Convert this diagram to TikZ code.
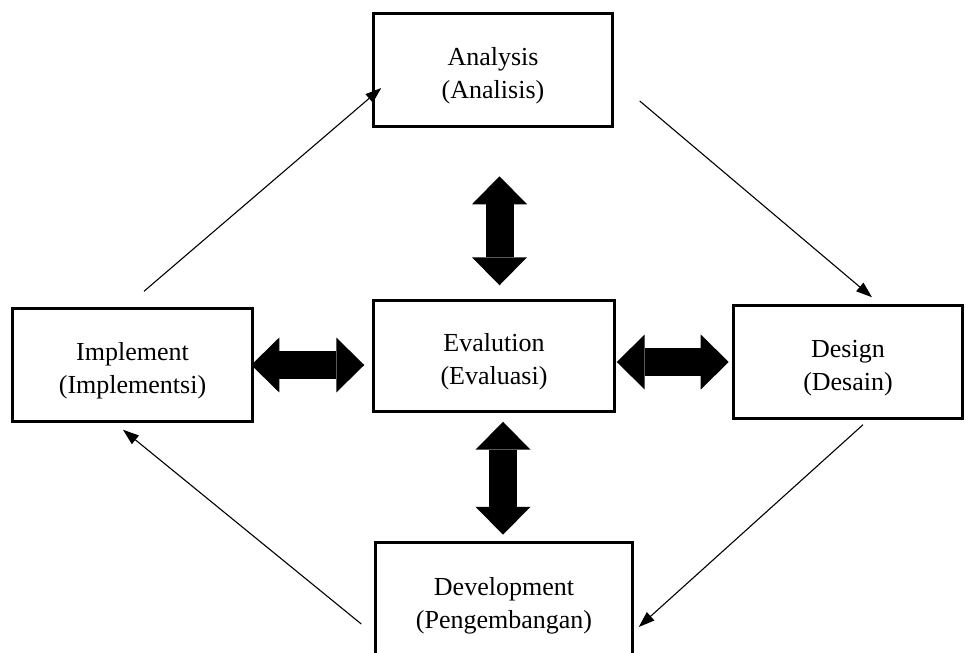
\documentclass[tikz,border=0pt]{standalone}
\usepackage{fontspec}
\setmainfont{Liberation Serif}
\usepackage{tikz}
\usetikzlibrary{arrows.meta,calc}

\begin{document}
\begin{tikzpicture}[x=0.02cm,y=-0.02cm,
  box/.style={draw, line width=0.07cm, align=center, inner sep=0pt, text height=35.4pt,
    font=\fontsize{14.8}{18.8}\selectfont},
  thin/.style={line width=0.022cm, -{Triangle[length=0.32cm,width=0.22cm]}},
  fat/.style={line width=0.56cm,
    {Triangle[length=0.56cm,width=1.1cm,line width=0pt]}-{Triangle[length=0.56cm,width=1.1cm,line width=0pt]}}]
\useasboundingbox (0,0) rectangle (966,652);

\node (An) at (493,70)  [box, minimum width=4.78cm, minimum height=2.26cm] {Analysis\\(Analisis)};
\node (Ev) at (494,356) [box, minimum width=4.82cm, minimum height=2.22cm] {Evalution\\(Evaluasi)};
\node (Im) at (132.5,365) [box, minimum width=4.8cm, minimum height=2.26cm] {Implement\\(Implementsi)};
\node (Ds) at (848,362) [box, minimum width=4.58cm, minimum height=2.26cm] {Design\\(Desain)};
\node (Dv) at (504,600) [box, minimum width=5.14cm, minimum height=2.3cm] {Development\\(Pengembangan)};

% cycle
\draw[thin] ($(Im.north)+(11.5,-15.5)$) -- ($(An.west)+(9.5,18)$);
\draw[thin] ($(An.east)+(25.5,31)$) -- ($(Ds.north)+(24,-6.5)$);
\draw[thin] ($(Ds.south)+(15,4.5)$) -- ($(Dv.east)+(4.5,27)$);
\draw[thin] ($(Dv.west)+(-12.5,24)$) -- ($(Im.south)+(-9.5,6.5)$);

% evaluation links
\draw[fat] ($(Ev.north)+(5.5,-122.5)$) -- ($(Ev.north)+(5.5,-13.5)$);
\draw[fat] ($(Ev.south)+(9,8.5)$) -- ($(Ev.south)+(9,121.5)$);
\draw[fat] ($(Ev.west)+(-120.5,9)$) -- ($(Ev.west)+(-7.5,9)$);
\draw[fat] ($(Ev.east)+(0.5,6)$) -- ($(Ev.east)+(112.5,6)$);
\end{tikzpicture}
\end{document}
